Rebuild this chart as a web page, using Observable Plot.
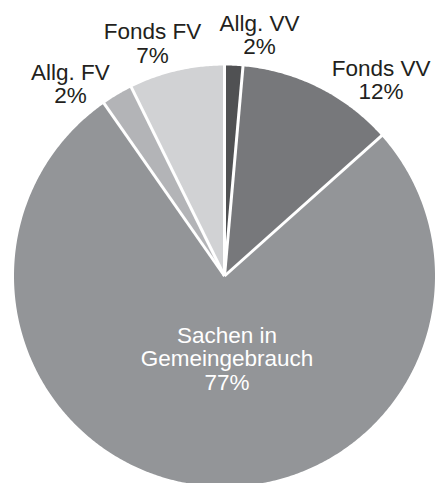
<!DOCTYPE html>
<html>
<head>
<meta charset="utf-8">
<script src="https://cdn.jsdelivr.net/npm/d3@7"></script>
<script src="https://cdn.jsdelivr.net/npm/@observablehq/plot@0.6"></script>
<style>
  html, body { margin: 0; padding: 0; background: #fff; }
  #chart svg { display: block; font-family: "Liberation Sans", Arial, Helvetica, sans-serif; }
</style>
</head>
<body>
<div id="chart"></div>
<script>
// ---- data ----
const categories = ["Allg. VV", "Fonds VV", "Sachen in\nGemeingebrauch", "Allg. FV", "Fonds FV"];
const values = [1.4, 12.0, 76.9, 2.4, 7.3];
const percentLabels = ["2%", "12%", "77%", "2%", "7%"];
const sliceColors = ["#505153", "#77787b", "#939598", "#b3b4b7", "#d1d2d4"];

// ---- layout (label centres in pie units, pie radius = 1) ----
const labelPos = [
  [0.166, 1.144],
  [0.744, 0.931],
  [0.012, -0.393],
  [-0.732, 0.911],
  [-0.342, 1.104]
];

const W = 435, H = 483, CX = 224, CY = 275.5, R = 210.5;

const arcs = d3.pie().sort(null).value(d => d)(values);

// slice polygons
const polys = [];
arcs.forEach((a, i) => {
  const name = categories[i];
  polys.push({name, x: 0, y: 0});
  const n = Math.max(2, Math.ceil((a.endAngle - a.startAngle) / (Math.PI / 360)));
  for (let k = 0; k <= n; k++) {
    const t = a.startAngle + (a.endAngle - a.startAngle) * k / n;
    polys.push({name, x: Math.sin(t), y: Math.cos(t)});
  }
});

// separators at slice boundaries
const seps = arcs.map(a => ({x1: 0, y1: 0, x2: Math.sin(a.startAngle) * 1.01, y2: Math.cos(a.startAngle) * 1.01}));

const labels = categories.map((c, i) => ({
  text: c + "\n" + percentLabels[i],
  x: labelPos[i][0],
  y: labelPos[i][1],
  inside: i === 2
}));

const chart = Plot.plot({
  width: W,
  height: H,
  margin: 0,
  x: {domain: [-CX / R, (W - CX) / R], axis: null},
  y: {domain: [-(H - CY) / R, CY / R], axis: null},
  color: {domain: categories, range: sliceColors},
  marks: [
    Plot.line(polys, {x: "x", y: "y", z: "name", fill: "name", stroke: "none", curve: "linear-closed"}),
    Plot.link(seps, {x1: "x1", y1: "y1", x2: "x2", y2: "y2", stroke: "white", strokeWidth: 3}),
    Plot.text(labels.filter(d => !d.inside), {x: "x", y: "y", text: "text", fill: "#231f20", fontSize: 22.5, lineHeight: 1.04, lineAnchor: "middle", textAnchor: "middle"}),
    Plot.text(labels.filter(d => d.inside), {x: "x", y: "y", text: "text", fill: "white", fontSize: 22.5, lineHeight: 1.04, lineAnchor: "middle", textAnchor: "middle"})
  ]
});
document.getElementById("chart").appendChild(chart);
</script>
</body>
</html>
